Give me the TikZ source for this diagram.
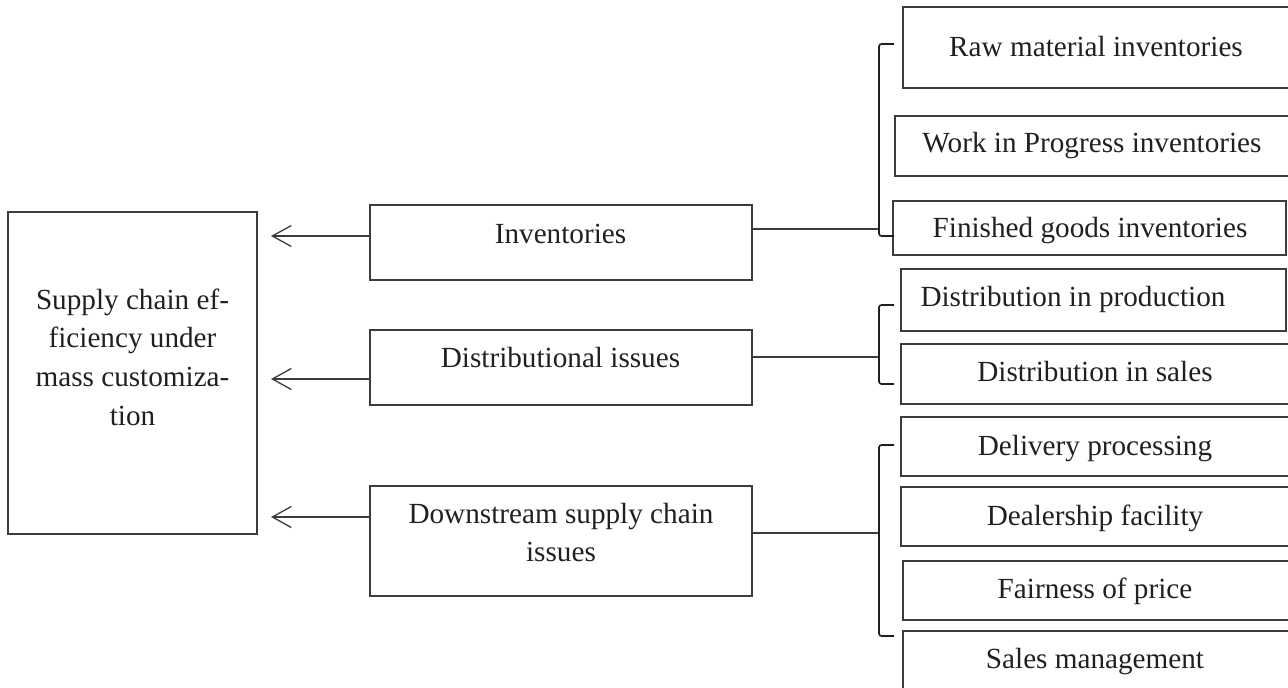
\documentclass[tikz,border=0pt]{standalone}
\usepackage{fontspec}
\setmainfont{Liberation Serif}
\usetikzlibrary{arrows.meta}
\definecolor{ink}{RGB}{35,31,32}
\definecolor{frame}{RGB}{60,60,60}
\begin{document}
\begin{tikzpicture}[x=1pt,y=-1pt,
  box/.style={draw=frame, line width=1.1pt, inner sep=0pt},
  lbl/.style={text=ink, font=\fontsize{29.2}{38.7}\selectfont, inner sep=0pt, align=center},
  link/.style={draw=frame, line width=1.2pt},
  brace/.style={draw=ink, line width=1.7pt, rounded corners=2.5pt},
  pull/.style={link, -{Straight Barb[length=19pt,width=21pt,line width=1.3pt]}}]
\useasboundingbox (0,0) rectangle (1288,688);

% goal box
\node[box, minimum width=249pt, minimum height=322pt] (main) at (132.5,373) {};
\node[lbl] (tMain) at (132.5,357) {Supply chain ef-\\ficiency under\\mass customiza-\\tion};

% factor boxes
\node[box, minimum width=382pt, minimum height=75pt] (inv) at (561,242.5) {};
\node[lbl, anchor=base] (tInv) at (560.5,243) {Inventories};
\node[box, minimum width=382pt, minimum height=75pt] (dist) at (561,367.5) {};
\node[lbl, anchor=base] (tDist) at (560.5,367) {Distributional issues};
\node[box, minimum width=382pt, minimum height=110pt] (down) at (561,541) {};
\node[lbl] (tDown) at (561,532.5) {Downstream supply chain\\issues};

% detail boxes
\node[box, minimum width=392pt, minimum height=81pt] (raw) at (1099,47.5) {};
\node[lbl, anchor=base] (tRaw) at (1096,56) {Raw material inventories};
\node[box, minimum width=400pt, minimum height=60pt] (wip) at (1095,146) {};
\node[lbl, anchor=base] (tWip) at (1092,152) {Work in Progress inventories};
\node[box, minimum width=393pt, minimum height=54pt] (fg) at (1089.5,228) {};
\node[lbl, anchor=base] (tFg) at (1090,237) {Finished goods inventories};

\node[box, minimum width=385pt, minimum height=62pt] (dprod) at (1093.5,300) {};
\node[lbl, anchor=base] (tDprod) at (1073,306.5) {Distribution in production};
\node[box, minimum width=394pt, minimum height=60pt] (dsales) at (1098,374) {};
\node[lbl, anchor=base] (tDsales) at (1095,381.5) {Distribution in sales};

\node[box, minimum width=394pt, minimum height=59pt] (deliv) at (1098,446.5) {};
\node[lbl, anchor=base] (tDeliv) at (1095,455) {Delivery processing};
\node[box, minimum width=394pt, minimum height=59pt] (deal) at (1098,516.5) {};
\node[lbl, anchor=base] (tDeal) at (1095,525) {Dealership facility};
\node[box, minimum width=392pt, minimum height=59pt] (fair) at (1099,590.5) {};
\node[lbl, anchor=base] (tFair) at (1095,598) {Fairness of price};
\node[box, minimum width=392pt, minimum height=69pt] (sales) at (1099,665.5) {};
\node[lbl, anchor=base] (tSales) at (1095,668) {Sales management};

% arrows into the goal box
\coordinate (tipA) at (271,236);
\coordinate (tipB) at (271,379);
\coordinate (tipC) at (271,517);
\draw[pull] (inv.west |- tipA) -- (tipA);
\draw[pull] (dist.west |- tipB) -- (tipB);
\draw[pull] (down.west |- tipC) -- (tipC);

% brackets gathering the detail boxes
\coordinate (invJoin) at (879,229);
\coordinate (invTop) at (894,44);
\coordinate (invBot) at (894,236);
\draw[link] (inv.east |- invJoin) -- (invJoin);
\draw[brace] (invTop) -- ++(-15,0) |- (invBot);

\coordinate (distJoin) at (879,357);
\coordinate (distTop) at (894,305);
\coordinate (distBot) at (894,384);
\draw[link] (dist.east |- distJoin) -- (distJoin);
\draw[brace] (distTop) -- ++(-15,0) |- (distBot);

\coordinate (downJoin) at (879,533);
\coordinate (downTop) at (894,445);
\coordinate (downBot) at (894,636);
\draw[link] (down.east |- downJoin) -- (downJoin);
\draw[brace] (downTop) -- ++(-15,0) |- (downBot);
\end{tikzpicture}
\end{document}
